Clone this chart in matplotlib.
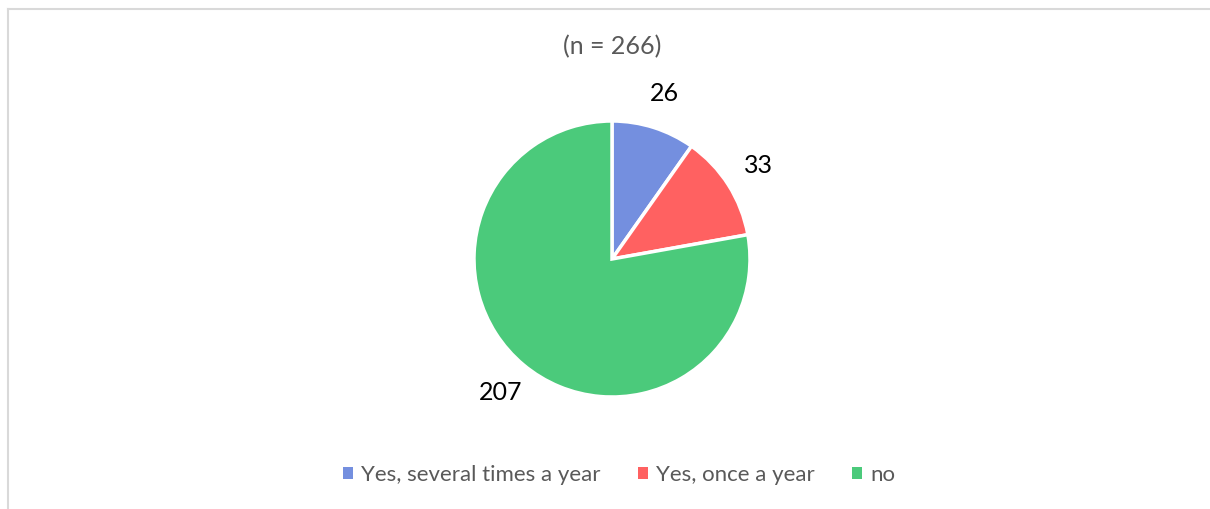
import matplotlib.pyplot as plt
from matplotlib.lines import Line2D
from matplotlib.patches import Patch

plt.rcParams['font.family'] = ['Lato', 'DejaVu Sans']

categories = ["Yes, several times a year", "Yes, once a year", "no"]
counts = [26, 33, 207]
colors = ["#748FDF", "#FF6161", "#4BCA7B"]
title = "(n = 266)"

W, H = 1210, 509
fig = plt.figure(figsize=(W / 100, H / 100), dpi=100)

# pie centre and radius in pixels
cx, cy, r = 612, 259, 138
ax = fig.add_axes([(cx - r) / W, (H - cy - r) / H, 2 * r / W, 2 * r / H])

wedges, texts = ax.pie(counts, colors=colors, startangle=90, counterclock=False,
                       labels=[str(c) for c in counts], labeldistance=1.26,
                       wedgeprops=dict(edgecolor="white", linewidth=2.5),
                       radius=1)
for t in texts:
    t.set_horizontalalignment("center")
    t.set_verticalalignment("center")
    t.set_fontsize(18)
    t.set_color("black")
ax.set_xlim(-1, 1)
ax.set_ylim(-1, 1)
ax.set_aspect("equal")
ax.axis("off")

fig.text(cx / W, (H - 47) / H, title, ha="center", va="center",
         fontsize=18, color="#595959")

handles = [Patch(facecolor=c, edgecolor="none") for c in colors]
fig.legend(handles, categories, loc="center", bbox_to_anchor=(619 / W, (H - 475) / H),
           ncol=3, frameon=False, fontsize=16, labelcolor="#595959",
           handlelength=0.45, handleheight=0.45, handletextpad=0.35,
           columnspacing=1.7)

# chart frame (top and left edges only visible)
fig.add_artist(Line2D([8 / W, 1], [(H - 9) / H, (H - 9) / H], color="#D9D9D9", lw=1.5))
fig.add_artist(Line2D([8 / W, 8 / W], [0, (H - 9) / H], color="#D9D9D9", lw=1.5))

fig.savefig("out.png", dpi=100)
